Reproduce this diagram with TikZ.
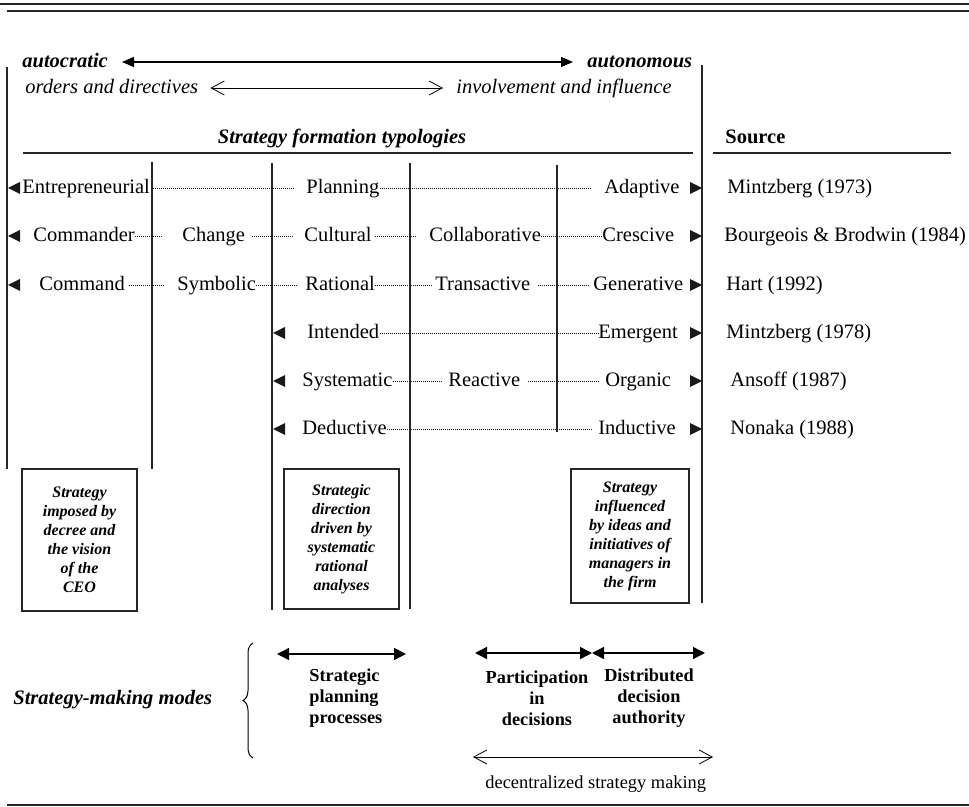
\documentclass[tikz,border=0pt]{standalone}
\usepackage{fontspec}
\setmainfont{Liberation Serif}
\usetikzlibrary{arrows.meta,decorations.pathreplacing}
\newcommand\fbase{\fontsize{10.25}{12.3}\selectfont}
\newcommand\myboxfont{\fontsize{8}{9.5}\selectfont\bfseries\itshape}
\newcommand\mylabfont{\fontsize{9.15}{10.5}\selectfont\bfseries}
\begin{document}
\begin{tikzpicture}[x=0.5pt,y=-0.5pt,
  lab/.style={font=\fbase,inner sep=0pt,text height=7pt,text depth=1pt,anchor=west},
  vline/.style={line width=0.65pt,draw=black!85},
  rule/.style={line width=0.75pt,draw=black!85},
  dots/.style={line width=0.45pt,draw=black!90,dash pattern=on 0.45pt off 0.55pt},
  tri/.style={fill=black!90},
  boxnode/.style={draw=black!85,line width=0.7pt,font=\myboxfont,align=center,inner sep=0pt},
  boldlab/.style={font=\mylabfont,inner sep=0pt},
  bigarrow/.style={line width=0.6pt,{Triangle[length=6pt,width=5pt]}-{Triangle[length=6pt,width=5pt]}},
  modearrow/.style={line width=0.7pt,{Triangle[length=6pt,width=6pt]}-{Triangle[length=6pt,width=6pt]}},
  openarrow/.style={line width=0.4pt,{Straight Barb[length=6.5pt,width=7pt]}-{Straight Barb[length=6.5pt,width=7pt]}}
]
\useasboundingbox (0,0) rectangle (969,807);

% rules
\draw[rule] (0,4) -- (969,4);
\draw[rule] (7,11) -- (969,11);
\draw[rule] (7,805) -- (969,805);
\draw[rule] (23,153) -- (693,153);
\draw[rule] (713,153) -- (951,153);

% header
\node[lab,font=\fbase\bfseries\itshape] (autoc) at (22,62) {autocratic};
\node[lab,font=\fbase\bfseries\itshape] (auton) at (587,62) {autonomous};
\coordinate (ta1) at (122,62);
\coordinate (ta2) at (573,62);
\draw[bigarrow] (ta1) -- (ta2);
\node[lab,font=\fbase\itshape] (orders) at (25,88) {orders and directives};
\node[lab,font=\fbase\itshape] (invol) at (456,88) {involvement and influence};
\draw[openarrow] (orders.east) ++(12,0) coordinate (oa1) -- (443,88) coordinate (oa2);
\node[font=\fbase\bfseries\itshape,inner sep=0pt,text height=7pt,text depth=1pt] (sft) at (342,138) {Strategy formation typologies};
\node[lab,font=\fbase\bfseries] (src) at (725,138) {Source};

% vertical lines
\draw[vline] (7,67) -- (7,469);
\draw[vline] (152,162) -- (152,469);
\draw[vline] (272,163) -- (272,610);
\draw[vline] (410,163) -- (410,609);
\draw[vline] (557,165) -- (557,432);
\draw[vline] (702,65) -- (702,603);

% row 1
\node[lab] (e1) at (22,188) {Entrepreneurial};
\node[lab] (p1) at (306,188) {Planning};
\node[lab] (a1) at (604,188) {Adaptive};
\node[lab] (s1) at (727,188) {Mintzberg (1973)};
% row 2
\node[lab] (c2) at (33,236) {Commander};
\node[lab] (ch2) at (182,236) {Change};
\node[lab] (cu2) at (304,236) {Cultural};
\node[lab] (co2) at (429,236) {Collaborative};
\node[lab] (cr2) at (602,236) {Crescive};
\node[lab] (s2) at (724,236) {Bourgeois \& Brodwin (1984)};
% row 3
\node[lab] (cm3) at (39,285) {Command};
\node[lab] (sy3) at (177,285) {Symbolic};
\node[lab] (ra3) at (305,285) {Rational};
\node[lab] (tr3) at (435,285) {Transactive};
\node[lab] (ge3) at (593,285) {Generative};
\node[lab] (s3) at (726,285) {Hart (1992)};
% row 4
\node[lab] (in4) at (307,333) {Intended};
\node[lab] (em4) at (598,333) {Emergent};
\node[lab] (s4) at (726,333) {Mintzberg (1978)};
% row 5
\node[lab] (sy5) at (302,381) {Systematic};
\node[lab] (re5) at (448,381) {Reactive};
\node[lab] (or5) at (605,381) {Organic};
\node[lab] (s5) at (730,381) {Ansoff (1987)};
% row 6
\node[lab] (de6) at (302,429) {Deductive};
\node[lab] (id6) at (598,429) {Inductive};
\node[lab] (s6) at (730,429) {Nonaka (1988)};

% dotted connectors
\draw[dots,shorten <=1.5pt,shorten >=5.5pt] (e1.east) -- (p1.west);
\draw[dots,shorten >=7pt] (p1.east) -- (a1.west);
\draw[dots,shorten >=9.5pt] (c2.east) -- (ch2.west);
\draw[dots,shorten <=3.5pt,shorten >=5.5pt] (ch2.east) -- (cu2.west);
\draw[dots,shorten <=1.5pt,shorten >=6.5pt] (cu2.east) -- (co2.west);
\draw[dots] (co2.east) -- (cr2.west);
\draw[dots,shorten <=2pt,shorten >=6pt] (cm3.east) -- (sy3.west);
\draw[dots,shorten >=4pt] (sy3.east) -- (ra3.west);
\draw[dots,shorten >=1pt] (ra3.east) -- (tr3.west);
\draw[dots,shorten <=3.5pt,shorten >=2.5pt] (tr3.east) -- (ge3.west);
\draw[dots] (in4.east) -- (em4.west);
\draw[dots,shorten >=3.5pt] (sy5.east) -- (re5.west);
\draw[dots,shorten <=3.5pt,shorten >=3pt] (re5.east) -- (or5.west);
\draw[dots,shorten >=3pt] (de6.east) -- (id6.west);

% left-pointing markers
\foreach \x/\y in {8/188,8/236,8/285,273/333,273/381,273/429}
  \fill[tri] (\x,\y) -- ++(12,-6) -- ++(0,12) -- cycle;
% right-pointing markers
\foreach \y in {188,236,285,333,381,429}
  \fill[tri] (702,\y) -- ++(-12,-6) -- ++(0,12) -- cycle;

% boxes
\node[boxnode,minimum width=57.5pt,minimum height=71pt] (b1) at (79.5,540)
  {Strategy\\imposed by\\decree and\\the vision\\of the\\CEO};
\node[boxnode,minimum width=57.5pt,minimum height=70pt] (b2) at (341.5,539)
  {Strategic\\direction\\driven by\\systematic\\rational\\analyses};
\node[boxnode,minimum width=59pt,minimum height=67pt] (b3) at (630,536)
  {Strategy\\influenced\\by ideas and\\initiatives of\\managers in\\the firm};

% strategy-making modes
\node[lab,font=\fbase\bfseries\itshape] (smm) at (13,698) {Strategy-making modes};
\coordinate (brb) at (253,758);
\coordinate (brt) at (253,643);
\draw[line width=0.5pt,decorate,decoration={brace,amplitude=5pt}] (brb) -- (brt);

\coordinate (m1a) at (277,654);
\coordinate (m1b) at (406,654);
\draw[modearrow] (m1a) -- (m1b);
\coordinate (m2a) at (475,653);
\coordinate (m2b) at (592,653);
\coordinate (m3b) at (705,653);
\draw[modearrow] (m2a) -- (m2b);
\draw[modearrow] (m2b) -- (m3b);

\node[boldlab,align=left,anchor=west] (spp) at (309,698) {Strategic\\planning\\processes};
\node[boldlab,align=center] (pid) at (537,698) {Participation\\in\\decisions};
\node[boldlab,align=center] (dda) at (649,698) {Distributed\\decision\\authority};

\coordinate (da1) at (473,757);
\coordinate (da2) at (713,757);
\draw[openarrow] (da1) -- (da2);
\node[lab,font=\fontsize{9.2}{11}\selectfont] (dsm) at (485,782) {decentralized strategy making};
\end{tikzpicture}
\end{document}
